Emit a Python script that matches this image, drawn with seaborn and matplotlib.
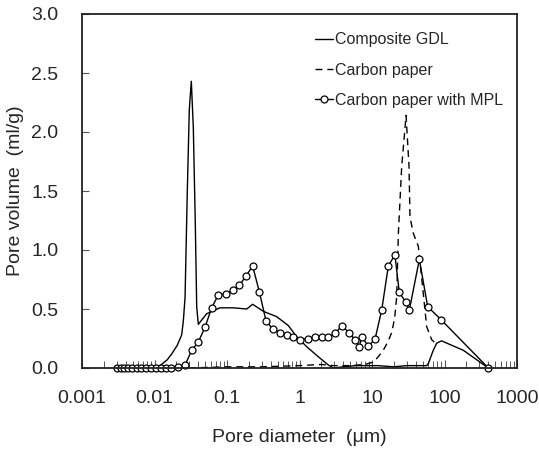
import matplotlib
matplotlib.use("Agg")
import matplotlib.pyplot as plt
import matplotlib.ticker as mticker
import pandas as pd
import seaborn as sns

# Composite GDL (solid line)
comp_d = [0.0102, 0.0125, 0.015, 0.0173, 0.0205, 0.0237, 0.025, 0.0264, 0.0283, 0.0302,
          0.0322, 0.0343, 0.0366, 0.0382, 0.0402, 0.0525, 0.080, 0.122, 0.187, 0.226,
          0.317, 0.485, 0.70, 0.915, 1.26, 1.82, 2.5, 2.93, 4.0, 6.0, 8.0, 12, 20, 30,
          45, 57, 60, 70, 78, 91, 182, 402]
comp_v = [0.0, 0.03, 0.07, 0.12, 0.19, 0.28, 0.40, 0.60, 1.48, 2.19,
          2.43, 2.04, 1.20, 0.52, 0.37, 0.46, 0.51, 0.51, 0.50, 0.54,
          0.48, 0.435, 0.36, 0.265, 0.18, 0.095, 0.025, 0.0, 0.01, 0.02, 0.02, 0.02, 0.01, 0.02,
          0.02, 0.02, 0.04, 0.15, 0.21, 0.23, 0.15, 0.0]

# Carbon paper (dashed line)
cp_d = [0.03, 0.1, 0.3, 1.0, 2.0, 3.0, 5.0, 8.0, 10.4, 12.0, 14.3, 16.5, 18.7, 20.5,
        21.9, 23.1, 25.7, 29.5, 32.4, 33.4, 37.2, 43.6, 51.0, 56.8, 66.5, 78.0]
cp_v = [0.0, 0.01, 0.01, 0.02, 0.03, 0.02, 0.02, 0.03, 0.05, 0.09, 0.15, 0.22, 0.30, 0.42,
        0.60, 1.14, 1.71, 2.14, 1.71, 1.28, 1.14, 1.03, 0.63, 0.35, 0.24, 0.20]

# Carbon paper with MPL (line + open circles)
mpl_d = [0.00301, 0.00342, 0.00383, 0.00435, 0.00494, 0.00568, 0.00651, 0.00763, 0.00895,
         0.0105, 0.0122, 0.0143, 0.0169, 0.0210, 0.0264, 0.0326, 0.0402, 0.0497, 0.0615,
         0.0759, 0.096, 0.12, 0.148, 0.183, 0.226, 0.279, 0.345, 0.427, 0.539, 0.665,
         0.822, 1.03, 1.30, 1.64, 2.02, 2.50, 3.09, 3.82, 4.86, 5.83, 6.69, 7.21, 8.9,
         11.0, 13.6, 16.8, 20.7, 23.8, 29.4, 32.7, 45.0, 58.6, 89.5, 402]
mpl_v = [0, 0, 0, 0, 0, 0, 0, 0, 0,
         0, 0, 0, 0, 0.01, 0.025, 0.15, 0.22, 0.345, 0.51,
         0.62, 0.63, 0.66, 0.70, 0.78, 0.864, 0.647, 0.40, 0.33, 0.30, 0.28,
         0.265, 0.24, 0.25, 0.265, 0.265, 0.265, 0.294, 0.356, 0.30, 0.237, 0.18, 0.265, 0.186,
         0.243, 0.49, 0.864, 0.96, 0.64, 0.556, 0.49, 0.92, 0.52, 0.41, 0.0]

x_ticks = [0.001, 0.01, 0.1, 1, 10, 100, 1000]
x_labels = ["0.001", "0.01", "0.1", "1", "10", "100", "1000"]
y_ticks = [0.0, 0.5, 1.0, 1.5, 2.0, 2.5, 3.0]

sns.set_style("ticks")
plt.rcParams['font.family'] = ['Liberation Sans', 'DejaVu Sans']

fig = plt.figure(figsize=(5.39, 4.55), dpi=100)
ax = fig.add_axes([82 / 539, 1 - 368 / 455, 435 / 539, 354 / 455])

comp = pd.DataFrame({"d": comp_d, "v": comp_v})
cp = pd.DataFrame({"d": cp_d, "v": cp_v})
mpl = pd.DataFrame({"d": mpl_d, "v": mpl_v})

sns.lineplot(data=comp, x="d", y="v", ax=ax, color="black", lw=1.0,
             sort=False, estimator=None, label="Composite GDL")
sns.lineplot(data=cp, x="d", y="v", ax=ax, color="black", lw=1.0, linestyle=(0, (5, 3.5)),
             sort=False, estimator=None, label="Carbon paper")
sns.lineplot(data=mpl, x="d", y="v", ax=ax, color="black", lw=1.0, marker="o",
             markersize=5, markerfacecolor="white", markeredgecolor="black",
             markeredgewidth=0.9, sort=False, estimator=None, clip_on=False,
             label="Carbon paper with MPL")

ax.set_xscale("log")
ax.set_xlim(0.001, 1000)
ax.set_ylim(0, 3.0)
ax.set_xticks(x_ticks)
ax.set_xticklabels(x_labels)
ax.xaxis.set_minor_locator(mticker.LogLocator(base=10, subs=range(2, 10), numticks=20))
ax.xaxis.set_minor_formatter(mticker.NullFormatter())
ax.set_yticks(y_ticks)
ax.yaxis.set_major_formatter(mticker.FormatStrFormatter("%.1f"))

ax.tick_params(axis="x", which="major", direction="in", length=6, width=0.8,
               pad=16, labelsize=14, color="#555555")
ax.tick_params(axis="x", which="minor", direction="in", length=5, width=0.7, color="#555555")
ax.tick_params(axis="y", which="major", direction="in", length=5, width=0.8,
               pad=17, labelsize=14, color="#555555")

for s in ax.spines.values():
    s.set_color("#222222")
    s.set_linewidth(1.3)

ax.set_xlabel("Pore diameter  (\u03bcm)", fontsize=14, labelpad=16)
ax.set_ylabel("Pore volume  (ml/g)", fontsize=14, labelpad=5)

ax.legend(loc="upper right", bbox_to_anchor=(0.99, 0.975), frameon=False,
          fontsize=11.5, handlelength=1.1, handletextpad=0.15, labelspacing=0.95,
          borderaxespad=0.2)

fig.savefig("out.png", dpi=100)
